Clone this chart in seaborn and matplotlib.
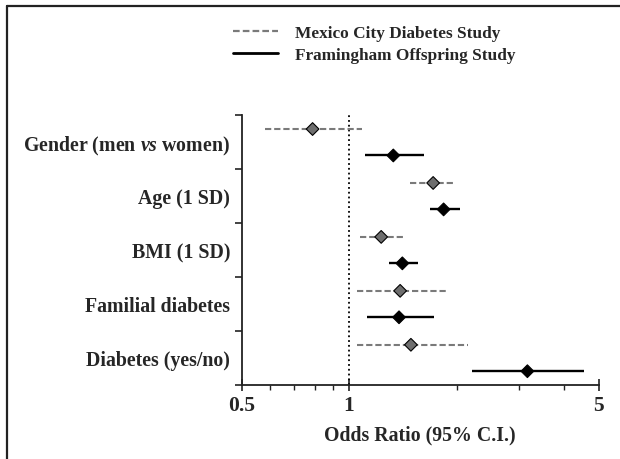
import matplotlib
matplotlib.use("Agg")
import matplotlib.pyplot as plt
from matplotlib.lines import Line2D
import numpy as np
import pandas as pd
import seaborn as sns

# ---- data ----
categories = ["Gender (men $\\mathit{vs}$ women)", "Age (1 SD)", "BMI (1 SD)",
              "Familial diabetes", "Diabetes (yes/no)"]
studies = ["Mexico City Diabetes Study", "Framingham Offspring Study"]
mexico_or = [0.79, 1.72, 1.23, 1.39, 1.49]
mexico_lo = [0.58, 1.48, 1.07, 1.05, 1.05]
mexico_hi = [1.09, 1.97, 1.43, 1.88, 2.16]
fram_or = [1.33, 1.84, 1.41, 1.38, 3.16]
fram_lo = [1.11, 1.69, 1.29, 1.12, 2.21]
fram_hi = [1.62, 2.04, 1.56, 1.73, 4.54]
xticks = [0.5, 1, 5]
xtick_labels = ["0.5", "1", "5"]

sns.set_theme(style="white")
plt.rcParams["font.family"] = ["Liberation Serif", "DejaVu Serif"]
plt.rcParams["font.weight"] = "bold"
plt.rcParams["mathtext.fontset"] = "custom"
plt.rcParams["mathtext.rm"] = "Liberation Serif:bold"
plt.rcParams["mathtext.it"] = "Liberation Serif:italic:bold"
plt.rcParams["mathtext.bf"] = "Liberation Serif:bold"

rows = []
for i, c in enumerate(categories):
    rows.append(dict(cat=i, study=studies[0], ypos=i - 0.24, OR=mexico_or[i], lo=mexico_lo[i], hi=mexico_hi[i]))
    rows.append(dict(cat=i, study=studies[1], ypos=i + 0.25, OR=fram_or[i], lo=fram_lo[i], hi=fram_hi[i]))
df = pd.DataFrame(rows)

fig = plt.figure(figsize=(6.2, 4.6), dpi=100)
ax = fig.add_axes([241.7 / 620, 1 - 385.7 / 460, (598.5 - 241.7) / 620, (385.7 - 116) / 460])

dash = (0, (3.0, 1.4))
styles = {
    studies[0]: dict(color="#7a7a7a", ls=dash, lw=1.5),
    studies[1]: dict(color="black", ls="-", lw=1.7),
}
for s in studies:
    sub = df[df.study == s]
    st = styles[s]
    ax.hlines(sub.ypos, sub.lo, sub.hi, colors=st["color"], linestyles=[st["ls"]], linewidth=st["lw"], zorder=2)

sns.scatterplot(data=df, x="OR", y="ypos", hue="study", palette={studies[0]: "#6e6e6e", studies[1]: "black"},
                marker="D", s=42, edgecolor="black", linewidth=0.8, legend=False, ax=ax, zorder=3)

ax.axvline(1, color="black", ls=":", lw=1.3, zorder=1)

ax.set_xscale("log")
ax.set_xlim(0.5, 5)
ax.set_ylim(4.5, -0.5)
ax.set_xticks(xticks)
ax.set_xticklabels(xtick_labels, fontsize=15.5, fontweight="bold")
ax.set_xticks([0.6, 0.7, 0.8, 0.9, 2, 3, 4], minor=True)
ax.xaxis.set_minor_formatter(matplotlib.ticker.NullFormatter())
ax.tick_params(axis="x", which="major", direction="inout", length=9, width=1.2, color="#222222", pad=3, bottom=True)
ax.tick_params(axis="x", which="minor", direction="out", length=3.5, width=1.0, color="#222222", bottom=True)

ax.set_yticks(np.arange(-0.5, len(categories), 1.0))
ax.set_yticklabels([])
ax.set_yticks(np.arange(len(categories)), minor=True)
ax.set_yticklabels(categories, minor=True, fontsize=14.3, fontweight="bold")
ax.tick_params(axis="y", which="major", direction="out", length=5, width=1.2, color="#222222", left=True)
ax.tick_params(axis="y", which="minor", length=0, pad=8.2, left=True)

ax.set_xlabel("Odds Ratio (95% C.I.)", fontsize=14.3, fontweight="bold", labelpad=7)
ax.set_ylabel("")
for side in ["top", "right"]:
    ax.spines[side].set_visible(False)
for side in ["left", "bottom"]:
    ax.spines[side].set_color("#222222")
    ax.spines[side].set_linewidth(1.3)

handles = [Line2D([], [], color="#7a7a7a", ls=dash, lw=1.6),
           Line2D([], [], color="black", ls="-", lw=2.0)]
fig.legend(handles, studies, loc="center left", bbox_to_anchor=(233 / 620, 1 - 45 / 460),
           frameon=False, handlelength=2.6, handletextpad=1.0,
           borderpad=0, borderaxespad=0, labelspacing=0.4, prop=dict(weight="bold", size=12.4))

# figure frame (top and left edges)
fig.add_artist(Line2D([7 / 620, 1], [1 - 7 / 460, 1 - 7 / 460], transform=fig.transFigure, color="#222222", lw=1.6))
fig.add_artist(Line2D([7 / 620, 7 / 620], [0, 1 - 7 / 460], transform=fig.transFigure, color="#222222", lw=1.6))

fig.savefig("out.png", dpi=100)
